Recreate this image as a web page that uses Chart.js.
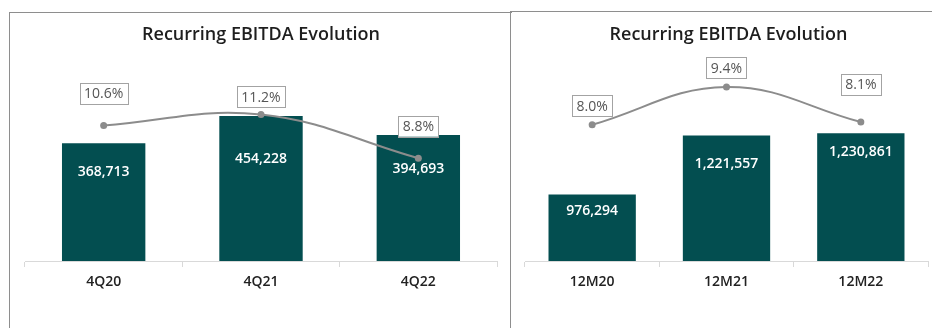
<!DOCTYPE html>
<html>
<head>
<meta charset="utf-8">
<script src="https://cdn.jsdelivr.net/npm/chart.js@4.4.1/dist/chart.umd.min.js"></script>
<style>
  html, body { margin: 0; padding: 0; background: #fff; }
  body { width: 932px; height: 328px; position: relative; overflow: hidden; }
  canvas { position: absolute; top: 0; }
  #quarters { left: 0; }
  #years { left: 510px; }
  .frame { position: absolute; border-left: 1.5px solid #8e8e8e; border-top: 1.5px solid #8e8e8e; height: 400px; pointer-events: none; }
</style>
</head>
<body>
<canvas id="quarters" width="510" height="328"></canvas>
<canvas id="years" width="422" height="328"></canvas>
<div class="frame" style="left:9px; top:12px; width:502px;"></div>
<div class="frame" style="left:510px; top:11px; width:430px;"></div>
<script>
const quarterLabels = ["4Q20", "4Q21", "4Q22"];
const quarterEbitda = [368713, 454228, 394693];
const quarterMargin = [10.6, 11.2, 8.8];

const yearLabels = ["12M20", "12M21", "12M22"];
const yearEbitda = [976294, 1221557, 1230861];
const yearMargin = [8.0, 9.4, 8.1];

const TEAL = "#034e50";
const GREY_LINE = "#8c8c8c";
const FONT = "'Open Sans', 'DejaVu Sans', sans-serif";

// values inside the bars + boxed margin labels above the line points
const valueLabels = {
  id: "valueLabels",
  afterDatasetsDraw(chart, args, opts) {
    const { ctx } = chart;
    const bars = chart.getDatasetMeta(1);
    const line = chart.getDatasetMeta(0);
    ctx.save();

    ctx.font = `600 14px ${FONT}`;
    ctx.fillStyle = "#ffffff";
    ctx.textAlign = "center";
    ctx.textBaseline = "middle";
    bars.data.forEach((bar, i) => {
      const v = chart.data.datasets[1].data[i];
      ctx.fillText(v.toLocaleString("en-US"), bar.x, bar.y + opts.drop[i]);
    });

    ctx.font = `400 14px ${FONT}`;
    line.data.forEach((pt, i) => {
      const txt = chart.data.datasets[0].data[i].toFixed(1) + "%";
      const w = ctx.measureText(txt).width + 9;
      const h = 21;
      const cx = pt.x, cy = pt.y - opts.lift[i];
      ctx.fillStyle = "#ffffff";
      ctx.fillRect(cx - w / 2, cy - h / 2, w, h);
      ctx.strokeStyle = "#a3a3a3";
      ctx.lineWidth = 1;
      ctx.strokeRect(Math.round(cx - w / 2) + 0.5, Math.round(cy - h / 2) + 0.5, Math.round(w), h);
      ctx.fillStyle = "#555555";
      ctx.fillText(txt, cx, cy + 1);
    });
    ctx.restore();
  },
};

function ebitdaChart(id, labels, ebitda, margin, cfg) {
  const ctx = document.getElementById(id).getContext("2d");
  return new Chart(ctx, {
    type: "bar",
    data: {
      labels,
      datasets: [
        {
          type: "line",
          data: margin,
          yAxisID: "y1",
          order: 0,
          borderColor: GREY_LINE,
          borderWidth: 2,
          backgroundColor: GREY_LINE,
          pointRadius: 3.5,
          pointBorderWidth: 0,
          tension: 0.4,
          fill: false,
        },
        {
          data: ebitda,
          yAxisID: "y",
          order: 1,
          backgroundColor: TEAL,
          barPercentage: cfg.barPct,
          categoryPercentage: 1,
        },
      ],
    },
    options: {
      responsive: false,
      animation: false,
      layout: { padding: { left: cfg.padLeft, right: cfg.padRight, top: 0, bottom: 27 } },
      plugins: {
        legend: { display: false },
        tooltip: { enabled: false },
        title: {
          display: true,
          text: "Recurring EBITDA Evolution",
          color: "#1e1e1e",
          font: { family: FONT, size: 18, weight: "600" },
          padding: { top: 24.2, bottom: 14.2 },
        },
        valueLabels: { drop: cfg.drop, lift: cfg.lift },
      },
      scales: {
        x: {
          grid: { display: true, offset: true, drawOnChartArea: false, drawTicks: true, tickLength: 6, color: "#d9d9d9" },
          border: { display: true, color: "#d9d9d9", width: 1 },
          ticks: { color: "#222222", padding: 7, font: { family: FONT, size: 14, weight: "600" } },
          afterFit(scale) { scale.height = 40; },
        },
        y: { display: false, min: cfg.yMin, max: cfg.yMax },
        y1: { display: false, min: cfg.pMin, max: cfg.pMax },
      },
    },
    plugins: [valueLabels],
  });
}

ebitdaChart("quarters", quarterLabels, quarterEbitda, quarterMargin, {
  padLeft: 25, padRight: 13, barPct: 0.53,
  yMin: 0, yMax: 630000, pMin: 3.15, pMax: 14.2,
  drop: [29, 43, 34], lift: [32, 18, 32],
});

ebitdaChart("years", yearLabels, yearEbitda, yearMargin, {
  padLeft: 15, padRight: 0, barPct: 0.65,
  yMin: 700000, yMax: 1535000, pMin: 2.95, pMax: 10.4,
  drop: [17, 29, 19], lift: [19, 19, 38],
});
</script>
</body>
</html>
